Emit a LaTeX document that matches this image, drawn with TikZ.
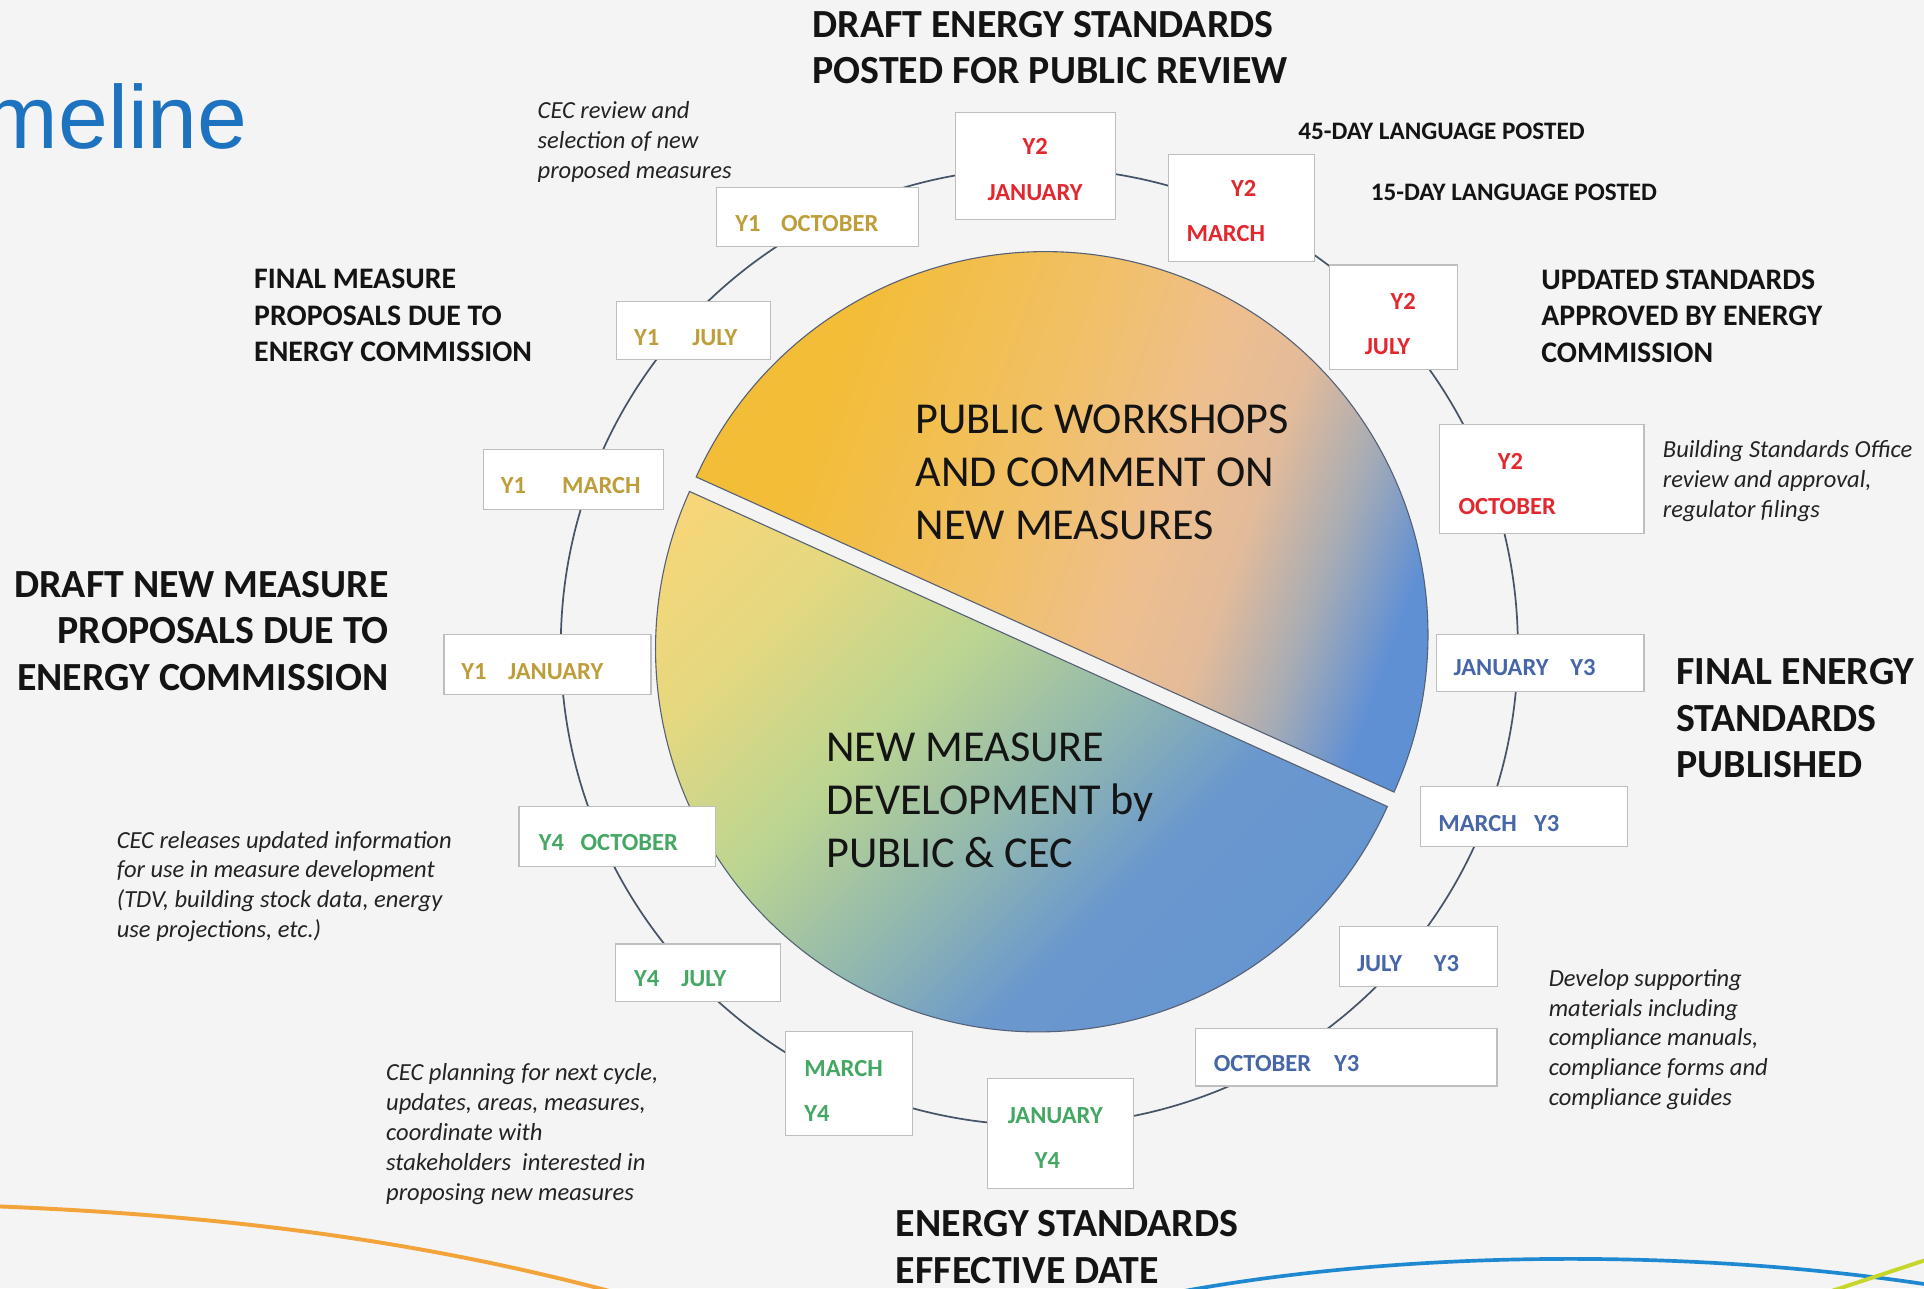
\documentclass[tikz,border=0pt]{standalone}
\usepackage{fontspec}
\setmainfont{Carlito}
\newfontfamily\titlefont{Liberation Sans}
\definecolor{bgc}{RGB}{244,244,244}
\definecolor{titleblue}{RGB}{30,115,192}
\definecolor{inkc}{RGB}{20,20,20}
\definecolor{notec}{RGB}{35,35,35}
\definecolor{ringc}{RGB}{70,84,104}
\definecolor{piec}{RGB}{85,98,118}
\definecolor{boxgray}{RGB}{190,190,190}
\definecolor{yonec}{RGB}{190,158,58}
\definecolor{ytwoc}{RGB}{226,40,46}
\definecolor{ythreec}{RGB}{70,102,168}
\definecolor{yfourc}{RGB}{68,168,100}
\definecolor{orangec}{RGB}{242,164,58}
\definecolor{bluec}{RGB}{30,136,208}
\definecolor{limec}{RGB}{198,214,42}
% top slice colours
\definecolor{tA}{RGB}{243,189,56}
\definecolor{tB}{RGB}{241,192,100}
\definecolor{tC}{RGB}{238,191,142}
\definecolor{tD}{RGB}{226,187,154}
\definecolor{tE}{RGB}{168,172,180}
\definecolor{tF}{RGB}{96,144,212}
% bottom slice colours
\definecolor{bA}{RGB}{246,214,120}
\definecolor{bB}{RGB}{228,216,128}
\definecolor{bC}{RGB}{188,213,145}
\definecolor{bD}{RGB}{138,178,180}
\definecolor{bE}{RGB}{106,151,206}
\definecolor{bF}{RGB}{96,145,211}
\pgfdeclarehorizontalshading{topshade}{100bp}{color(0bp)=(tA); color(31bp)=(tA); color(45bp)=(tB); color(55bp)=(tC); color(61bp)=(tD); color(67bp)=(tE); color(73bp)=(tF); color(100bp)=(tF)}
\pgfdeclarehorizontalshading{botshade}{100bp}{color(0bp)=(bA); color(20bp)=(bA); color(30bp)=(bB); color(41bp)=(bC); color(54bp)=(bD); color(62bp)=(bE); color(100bp)=(bF)}
\tikzset{
  datebox/.style={rectangle, draw=boxgray, fill=white, line width=0.9pt, inner sep=0pt},
  bx/.style 2 args={datebox, minimum width=#1pt, minimum height=#2pt},
  dtxt/.style={inner sep=0pt, font=\fontsize{20}{24}\selectfont\bfseries},
  yone/.style={dtxt, text=yonec, anchor=base west},
  ytwo/.style={dtxt, text=ytwoc, anchor=base},
  ythree/.style={dtxt, text=ythreec, anchor=base west},
  yfour/.style={dtxt, text=yfourc, anchor=base west},
  head/.style={inner sep=0pt, text=inkc, align=left, anchor=base west, font=\fontsize{32.5}{38}\selectfont\bfseries},
  midhead/.style={inner sep=0pt, text=inkc, align=left, anchor=base west, font=\fontsize{24.3}{29.8}\selectfont\bfseries},
  smallhead/.style={inner sep=0pt, text=inkc, anchor=base west, font=\fontsize{20.5}{24}\selectfont\bfseries},
  note/.style={inner sep=0pt, text=notec, align=left, anchor=base west, font=\fontsize{20}{24.4}\selectfont\itshape},
  pietxt/.style={inner sep=0pt, text=inkc, align=left, anchor=base west, font=\fontsize{36}{43}\selectfont},
  slice/.style={draw=piec, line width=0.9pt}
}
\begin{document}
\begin{tikzpicture}[x=1pt,y=-1pt]
\useasboundingbox (0,0) rectangle (1568,1050);
\fill[bgc] (0,0) rectangle (1568,1050);

% decorative curves
\draw[orangec, line width=3.2pt] (-5,983) .. controls (170,990) and (330,1008) .. (500,1053);
\draw[bluec, line width=3pt] (960,1053) .. controls (1150,1018) and (1380,1018) .. (1572,1047);
\draw[limec, line width=3.2pt] (1490,1053) -- (1572,1026);

% title
\node[inner sep=0pt, anchor=base east, text=titleblue, font=\titlefont\fontsize{73}{80}\selectfont] (title) at (202,121) {meline};

% ring
\node[circle, draw=ringc, line width=1.4pt, minimum size=780pt, inner sep=0pt] (ring) at (847,527) {};

% pie slices
\shadedraw[slice, shading=topshade, shading angle=-20, shift={(851.7,517.1)}]
  (204.3:312) arc[start angle=204.3, end angle=384.3, radius=312] -- cycle;
\shadedraw[slice, shading=botshade, shading angle=-45, shift={(846.3,528.9)}]
  (24.3:312) arc[start angle=24.3, end angle=204.3, radius=312] -- cycle;
\node[pietxt] (ptop) at (746,439.4) {PUBLIC WORKSHOPS\\AND COMMENT ON\\NEW MEASURES};
\node[pietxt] (pbot) at (673.3,706.8) {NEW MEASURE\\DEVELOPMENT by\\PUBLIC \& CEC};

% date boxes
\node[bx={129.7}{87}] (y2jan) at (843.9,135.5) {};
\node[bx={119.6}{87}] (y2mar) at (1011.8,169.5) {};
\node[bx={104}{85}] (y2jul) at (1135.5,258.5) {};
\node[bx={166.5}{89}] (y2oct) at (1256.5,390.5) {};
\node[bx={169}{46.7}] (y3jan) at (1255.3,540.3) {};
\node[bx={168.5}{49}] (y3mar) at (1241.8,665.5) {};
\node[bx={128.3}{49}] (y3jul) at (1155.9,779.2) {};
\node[bx={246}{46.6}] (y3oct) at (1097,861.7) {};
\node[bx={118.7}{89.8}] (y4jan) at (864.4,923.6) {};
\node[bx={103.6}{85}] (y4mar) at (692.2,883) {};
\node[bx={134.7}{46.7}] (y4jul) at (569,792.7) {};
\node[bx={160}{48.5}] (y4oct) at (503,681.8) {};
\node[bx={168.7}{49}] (y1jan) at (446.2,541.3) {};
\node[bx={146.2}{48.8}] (y1mar) at (467.4,390.6) {};
\node[bx={125.4}{47}] (y1jul) at (565.3,269.4) {};
\node[bx={164.6}{48.3}] (y1oct) at (666.3,176.9) {};

% date texts
\node[yone] (t1oct) at (599,188.8) {\makebox[37.3pt][l]{Y1}OCTOBER};
\node[yone] (t1jul) at (516.6,281.2) {\makebox[47.4pt][l]{Y1}JULY};
\node[yone] (t1mar) at (408,402) {\makebox[50pt][l]{Y1}MARCH};
\node[yone] (t1jan) at (375.8,553.6) {\makebox[38.2pt][l]{Y1}JANUARY};
\node[ytwo] (t2jana) at (843.7,126.3) {Y2};
\node[ytwo] (t2janb) at (843.6,163) {JANUARY};
\node[ytwo] (t2mara) at (1013.5,160) {Y2};
\node[ytwo] (t2marb) at (999,197) {MARCH};
\node[ytwo] (t2jula) at (1143.5,252.6) {Y2};
\node[ytwo] (t2julb) at (1130.7,288.5) {JULY};
\node[ytwo] (t2octa) at (1231,383) {Y2};
\node[ytwo] (t2octb) at (1228.3,419.7) {OCTOBER};
\node[ythree] (t3jan) at (1184.5,550.5) {\makebox[95pt][l]{JANUARY}Y3};
\node[ythree] (t3mar) at (1172,677.8) {\makebox[78pt][l]{MARCH}Y3};
\node[ythree] (t3jul) at (1105.7,792) {\makebox[62.7pt][l]{JULY}Y3};
\node[ythree] (t3oct) at (989,873.4) {\makebox[98pt][l]{OCTOBER}Y3};
\node[yfour, anchor=base] (t4jana) at (860,915.5) {JANUARY};
\node[yfour, anchor=base] (t4janb) at (853.6,952) {Y4};
\node[yfour] (t4mara) at (655.3,877) {MARCH};
\node[yfour] (t4marb) at (655.3,913.8) {Y4};
\node[yfour] (t4jul) at (516.5,803.6) {\makebox[38.5pt][l]{Y4}JULY};
\node[yfour] (t4oct) at (439,693) {\makebox[34pt][l]{Y4}OCTOBER};

% headings and notes (anchor = baseline of last line)
\node[head] (hdraft) at (662,68.4) {DRAFT ENERGY STANDARDS\\POSTED FOR PUBLIC REVIEW};
\node[smallhead] (h45) at (1058,114) {45-DAY LANGUAGE POSTED};
\node[smallhead] (h15) at (1117,163) {15-DAY LANGUAGE POSTED};
\node[midhead] (hupd) at (1256,295.3) {UPDATED STANDARDS\\APPROVED BY ENERGY\\COMMISSION};
\node[note] (nbso) at (1355,422) {Building Standards Office\\review and approval,\\regulator filings};
\node[head] (hfinal) at (1366,634) {FINAL ENERGY\\STANDARDS\\PUBLISHED};
\node[note] (ndev) at (1262,901.2) {Develop supporting\\materials including\\compliance manuals,\\compliance forms and\\compliance guides};
\node[head] (heff) at (730,1046) {ENERGY STANDARDS\\EFFECTIVE DATE};
\node[note] (nplan) at (314.5,978.4) {CEC planning for next cycle,\\updates, areas, measures,\\coordinate with\\stakeholders\ \ interested in\\proposing new measures};
\node[note] (nrel) at (95,764.3) {CEC releases updated information\\for use in measure development\\(TDV, building stock data, energy\\use projections, etc.)};
\node[head, align=right, anchor=base east] (hdnm) at (317,562.6) {DRAFT NEW MEASURE\\PROPOSALS DUE TO\\ENERGY COMMISSION};
\node[midhead] (hfmp) at (207,294.8) {FINAL MEASURE\\PROPOSALS DUE TO\\ENERGY COMMISSION};
\node[note] (nrev) at (438,145.3) {CEC review and\\selection of new\\proposed measures};
\end{tikzpicture}
\end{document}
